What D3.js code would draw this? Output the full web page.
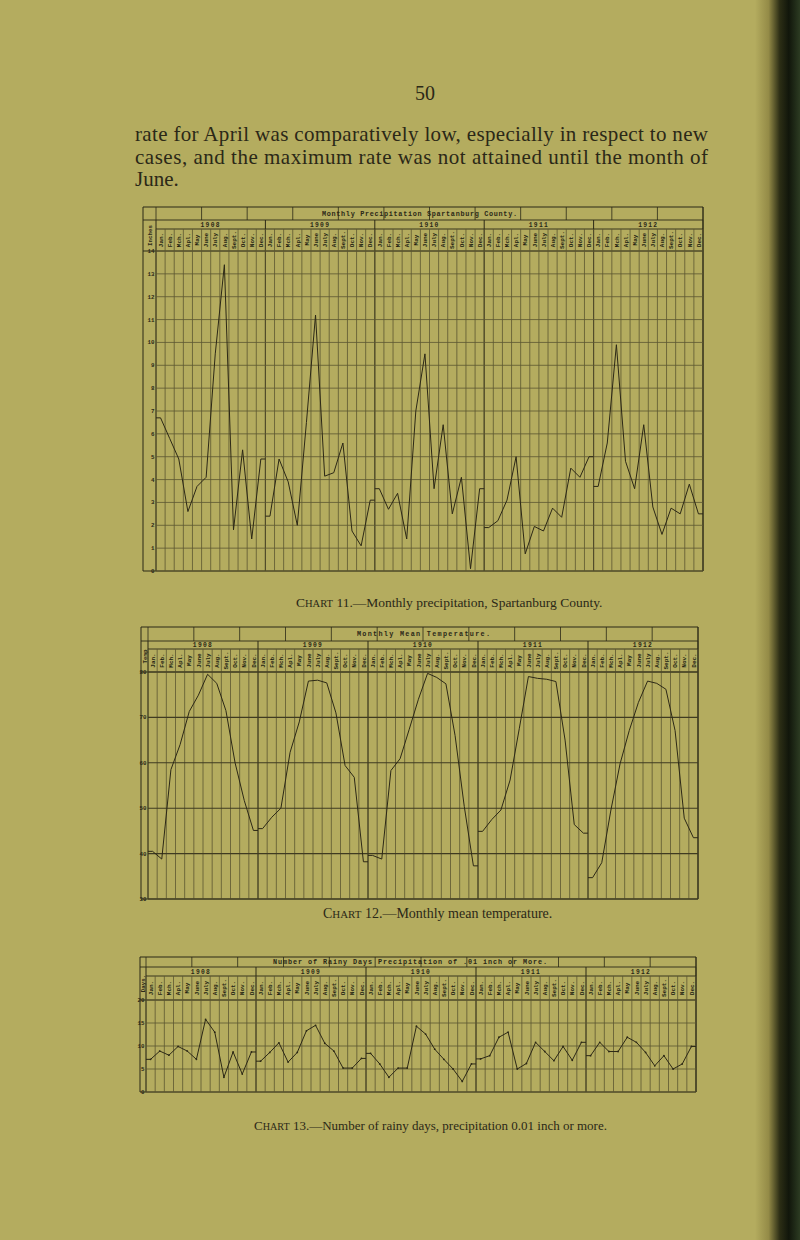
<!DOCTYPE html>
<html><head><meta charset="utf-8">
<script src="https://cdn.jsdelivr.net/npm/d3@7"></script>
<style>html,body{margin:0;padding:0;background:#b4ac5f;} svg{display:block}</style>
</head><body><svg id="page" width="800" height="1240"></svg>
<script>
// ---------- data ----------
const monthLabels = ["Jan.","Feb.","Mch.","Apl.","May","June","July","Aug.","Sept.","Oct.","Nov.","Dec."];
const yearLabels = ["1908","1909","1910","1911","1912"];

// Chart 11 – monthly precipitation, inches (Jan 1908 … Dec 1912)
const precipitation = [
  6.7, 5.8, 4.9, 2.6, 3.7, 4.1, 9.5, 13.4, 1.8, 5.3, 1.4, 4.9,
  2.4, 4.9, 3.9, 2.0, 6.5, 11.2, 4.15, 4.3, 5.6, 1.75, 1.1, 3.1,
  3.6, 2.7, 3.4, 1.4, 7.0, 9.5, 3.6, 6.4, 2.5, 4.1, 0.1, 3.6,
  1.9, 2.2, 3.1, 5.0, 0.75, 1.95, 1.75, 2.75, 2.35, 4.5, 4.1, 5.0,
  3.7, 5.6, 9.9, 4.8, 3.6, 6.4, 2.8, 1.6, 2.75, 2.5, 3.8, 2.5
];
// Chart 12 – monthly mean temperature, °F
const temperature = [
  40.5, 38.8, 58.5, 64.0, 71.3, 74.9, 79.5, 77.5, 71.5, 60.0, 51.7, 45.1,
  45.5, 48.0, 50.0, 62.3, 69.0, 78.0, 78.2, 77.6, 71.0, 59.4, 56.8, 38.2,
  39.6, 38.8, 58.3, 60.9, 67.4, 74.0, 79.7, 78.8, 77.4, 66.0, 50.4, 37.3,
  44.9, 47.5, 49.6, 56.2, 67.5, 79.0, 78.6, 78.4, 77.9, 65.0, 46.4, 44.5,
  34.7, 38.0, 49.6, 59.8, 67.1, 73.3, 78.0, 77.5, 76.2, 67.1, 47.8, 43.5
];
// Chart 13 – number of rainy days (0.01 inch or more)
const rainyDays = [
  7.1, 8.9, 8.0, 9.9, 8.9, 7.1, 15.8, 13.0, 3.2, 8.7, 3.9, 8.7,
  6.7, 8.6, 10.7, 6.5, 8.6, 13.3, 14.5, 10.6, 8.9, 5.2, 5.2, 7.3,
  8.4, 6.1, 3.2, 5.2, 5.2, 14.3, 12.6, 9.3, 7.1, 5.0, 2.3, 6.1,
  7.2, 7.9, 11.9, 13.0, 5.0, 6.2, 10.8, 8.8, 6.8, 9.9, 6.9, 10.8,
  7.9, 10.8, 8.8, 8.8, 11.9, 10.8, 8.6, 5.7, 7.9, 5.0, 6.1, 9.9
];
const precipTicks = [0,1,2,3,4,5,6,7,8,9,10,11,12,13,14];
const tempTicks = [30,40,50,60,70,80];
const rainTicks = [0,5,10,15,20];

const pageNumber = "50";
const paragraphLines = [
  "rate for April was comparatively low, especially in respect to new",
  "cases, and the maximum rate was not attained until the month of",
  "June."
];
const captions = [
  {num:"11", text:"—Monthly precipitation, Spartanburg County."},
  {num:"12", text:"—Monthly mean temperature."},
  {num:"13", text:"—Number of rainy days, precipitation 0.01 inch or more."}
];

// ---------- drawing ----------
const svg = d3.select("#page");
const BG = "#b4ac5f", GRID = "#5c5731", INK = "#2b2817", CURVE = "#2c2816";

svg.append("rect").attr("width",800).attr("height",1240).attr("fill",BG);
const defs = svg.append("defs");
const grad = defs.append("linearGradient").attr("id","spine").attr("x1","0").attr("x2","1");
[[0,BG],[0.3,"#948b47"],[0.55,"#2c2e15"],[0.75,"#11160b"],[1,"#2c3b22"]].forEach(s=>
  grad.append("stop").attr("offset",s[0]).attr("stop-color",s[1]));
svg.append("rect").attr("x",755).attr("y",0).attr("width",45).attr("height",1240).attr("fill","url(#spine)");

const serif = "'Liberation Serif','DejaVu Serif',serif";
const mono = "'Liberation Mono','DejaVu Sans Mono',monospace";

svg.append("text").attr("x",425).attr("y",100).attr("text-anchor","middle")
  .attr("font-family",serif).attr("font-size",20).attr("fill",INK).text(pageNumber);

const para = svg.append("g").attr("font-family",serif).attr("font-size",21).attr("fill",INK);
paragraphLines.forEach((t,i)=>{
  const el = para.append("text").attr("x",135).attr("y",141+i*22.5).text(t);
  if (i < paragraphLines.length-1) el.attr("textLength",573).attr("lengthAdjust","spacing");
});

function caption(c, x, y, size){
  const t = svg.append("text").attr("x",x).attr("y",y).attr("font-family",serif)
    .attr("font-size",size).attr("fill",INK);
  t.append("tspan").text("C");
  t.append("tspan").attr("font-size",size*0.78).text("HART");
  t.append("tspan").text(" " + c.num + "." + c.text);
}

function drawChart(o){
  const g = svg.append("g");
  const x = d3.scaleLinear().domain([0,60]).range([o.left,o.right]);
  const y = d3.scaleLinear().domain(o.yDomain).range([o.bottom,o.plotTop]);
  const line = (x1,y1,x2,y2,w,c)=>g.append("line").attr("x1",x1).attr("y1",y1).attr("x2",x2).attr("y2",y2)
      .attr("stroke",c||GRID).attr("stroke-width",w||0.8);

  line(o.frameLeft,o.top,o.right,o.top,1,INK);
  line(o.frameLeft,o.titleBottom,o.right,o.titleBottom,0.9,INK);
  line(o.left,o.yearBottom,o.right,o.yearBottom,0.9,INK);
  line(o.frameLeft,o.plotTop,o.right,o.plotTop,1,INK);
  line(o.frameLeft,o.bottom,o.right,o.bottom,1,INK);
  line(o.frameLeft,o.top,o.frameLeft,o.bottom,1,INK);
  line(o.right,o.top,o.right,o.bottom,1,INK);
  d3.range(0,61,5).forEach(i=>line(x(i),o.top,x(i),o.titleBottom,0.8,INK));
  d3.range(0,61,12).forEach(i=>line(x(i),o.titleBottom,x(i),o.bottom,1,INK));
  d3.range(0,61).forEach(i=>line(x(i),o.yearBottom,x(i),o.bottom,0.8));

  o.gridTicks.forEach(v=>line(o.left,y(v),o.right,y(v),o.gridWidth||0.8,o.gridColor||GRID));

  g.append("g").selectAll("text").data(o.labelTicks).join("text")
    .attr("x",o.left-1.5).attr("y",d=>y(d)).attr("dy","0.35em").attr("text-anchor","end")
    .attr("font-family",mono).attr("font-weight","bold").attr("font-size",5.8).attr("fill",INK)
    .text(d=>d);

  const ly = (o.titleBottom+o.plotTop)/2;
  g.append("text").attr("transform",`translate(${(o.frameLeft+o.left)/2+2},${ly}) rotate(-90)`)
    .attr("text-anchor","middle").attr("font-family",mono).attr("font-weight","bold")
    .attr("font-size",5.8).attr("fill",INK).text(o.axisLabel);

  g.append("text").attr("x",o.titleX0).attr("y",(o.top+o.titleBottom)/2).attr("dy","0.35em")
    .attr("textLength",o.titleX1-o.titleX0).attr("lengthAdjust","spacing")
    .attr("font-family",mono).attr("font-weight","bold").attr("font-size",6.8).attr("fill",INK)
    .text(o.title);

  g.append("g").selectAll("text").data(yearLabels).join("text")
    .attr("x",(d,i)=>x(i*12+6)).attr("y",(o.titleBottom+o.yearBottom)/2).attr("dy","0.35em")
    .attr("text-anchor","middle").attr("letter-spacing",1.3)
    .attr("font-family",mono).attr("font-weight","bold").attr("font-size",6.3).attr("fill",INK)
    .text(d=>d);

  const my = (o.yearBottom+o.plotTop)/2;
  g.append("g").selectAll("text").data(d3.range(60)).join("text")
    .attr("transform",i=>`translate(${x(i+0.5)+2.2},${my}) rotate(-90)`)
    .attr("text-anchor","middle").attr("font-family",mono).attr("font-weight","bold")
    .attr("font-size",6).attr("fill","#221f12").text(i=>monthLabels[i%12]);

  const path = d3.line().x(d=>d[0]).y(d=>d[1]);
  yearLabels.forEach((yr,k)=>{
    const vals = o.data.slice(k*12,k*12+12);
    const pts = [[x(k*12),y(vals[0])]];
    vals.forEach((v,j)=>pts.push([x(k*12+j+0.5),y(v)]));
    pts.push([x(k*12+12),y(vals[11])]);
    g.append("path").attr("d",path(pts)).attr("fill","none")
      .attr("stroke",CURVE).attr("stroke-width",1).attr("stroke-linejoin","round");
    if (o.dots) vals.forEach((v,j)=>g.append("circle").attr("cx",x(k*12+j+0.5)).attr("cy",y(v))
      .attr("r",0.9).attr("fill",CURVE));
  });
}

drawChart({frameLeft:143,left:156,right:703,top:207,titleBottom:220,yearBottom:229,plotTop:251,bottom:571,
  yDomain:[0,14],gridTicks:precipTicks,labelTicks:precipTicks,axisLabel:"Inches",
  title:"Monthly  Precipitation  Spartanburg  County.",titleX0:322,titleX1:517,data:precipitation});
caption(captions[0],296,607,13.5);

drawChart({frameLeft:141,left:148,right:698,top:627,titleBottom:641,yearBottom:649,plotTop:672,bottom:899,
  yDomain:[30,80],gridTicks:tempTicks,labelTicks:tempTicks,axisLabel:"Temp",gridWidth:1.1,gridColor:"#3f3b21",
  title:"Monthly  Mean  Temperature.",titleX0:357,titleX1:490,data:temperature});
caption(captions[1],323,918,14);

drawChart({frameLeft:140,left:146,right:696,top:957,titleBottom:967,yearBottom:976,plotTop:1000,bottom:1092,
  yDomain:[0,20],gridTicks:rainTicks,labelTicks:rainTicks,axisLabel:"Days.",
  title:"Number  of  Rainy  Days  Precipitation  of  .01  inch  or  More.",titleX0:273,titleX1:547,
  data:rainyDays,dots:true});
caption(captions[2],254,1130,13);
</script></body></html>
